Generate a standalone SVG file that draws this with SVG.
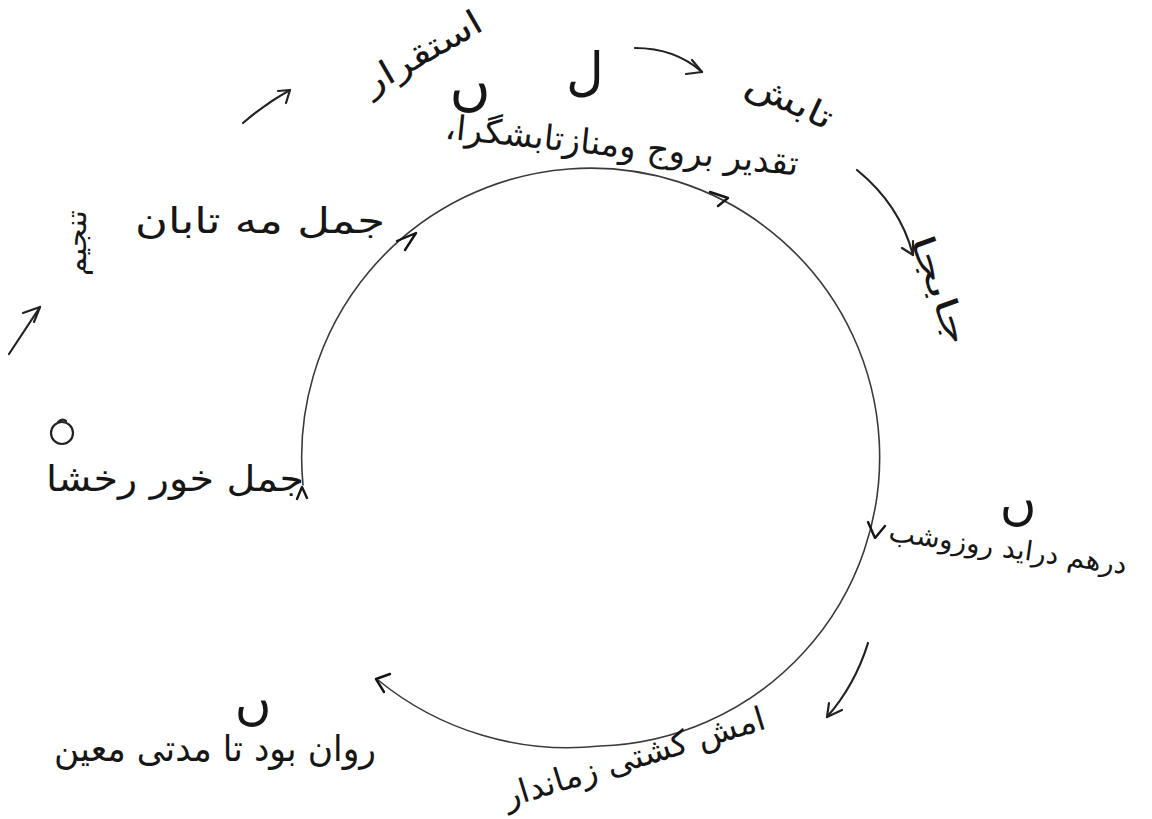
<svg xmlns="http://www.w3.org/2000/svg" width="1152" height="819" viewBox="0 0 1152 819">
<style>
.hw{font-family:"DejaVu Sans","Noto Sans",sans-serif;fill:#161616;text-anchor:middle;dominant-baseline:central;direction:rtl;unicode-bidi:embed}
.mk{font-family:"DejaVu Sans","Noto Sans",sans-serif;fill:#161616;text-anchor:middle;dominant-baseline:central}
.ln{fill:none;stroke:#222;stroke-width:2.2;stroke-linecap:round;stroke-linejoin:round}
.cl{fill:none;stroke:#3a3a3a;stroke-width:1.6;stroke-linecap:round;stroke-linejoin:round}
.hd{fill:none;stroke:#151515;stroke-width:2.4;stroke-linecap:round;stroke-linejoin:round}
</style>
<rect width="1152" height="819" fill="#ffffff"/>
<g id="connectors">
  <path class="cl" d="M303,485 A289,289 0 1 1 600,746 A300,300 0 0 1 378,680"/>
  <path class="hd" d="M397,241 L416,233 L405,250"/>
  <path class="hd" d="M710,192 L728,198 L718,206"/>
  <path class="hd" d="M868,522 L875,538 L885,526"/>
  <path class="hd" d="M390,674 L376,679 L384,692"/>
  <path class="hd" d="M297,499 L302,487 L307,498"/>
  <path class="ln" d="M9,354 L40,307"/>
  <path class="ln" d="M23,313 L40,307 L34,322"/>
  <path class="ln" d="M243,123 Q265,104 290,90"/>
  <path class="ln" d="M278,91 L290,90 L286,103"/>
  <path class="ln" d="M635,48 Q675,48 702,72"/>
  <path class="ln" d="M692,60 L702,72 L686,74"/>
  <path class="ln" d="M857,170 Q900,205 913,255"/>
  <path class="ln" d="M902,248 L913,255 L913,241"/>
  <path class="ln" d="M868,643 Q855,685 827,717"/>
  <path class="ln" d="M842,710 L827,717 L829,703"/>
</g>
<g id="n-esteqrar"><text class="hw" font-size="34" textLength="132" lengthAdjust="spacingAndGlyphs" transform="translate(422,52) rotate(-30)">استقرار</text></g>
<g id="n-mark1"><text class="mk" font-size="56" transform="translate(470,84)">ں</text></g>
<g id="n-mark2"><text class="mk" font-size="52" transform="translate(585,72)">ل</text></g>
<g id="n-tabesh"><text class="hw" font-size="34" textLength="92" lengthAdjust="spacingAndGlyphs" transform="translate(790,100) rotate(25)">تابش</text></g>
<g id="n-taqdir"><text class="hw" font-size="34" textLength="355" lengthAdjust="spacingAndGlyphs" transform="translate(622,145) rotate(6)">تقدیر بروج ومنازتابشگرا،</text></g>
<g id="n-jabeja"><text class="hw" font-size="32" textLength="115" lengthAdjust="spacingAndGlyphs" transform="translate(940,290) rotate(70)">جابجا</text></g>
<g id="n-darham"><text class="mk" font-size="50" transform="translate(1018,502)">ں</text><text class="hw" font-size="27" textLength="240" lengthAdjust="spacingAndGlyphs" transform="translate(1008,548) rotate(8)">درهم دراید روزوشب</text></g>
<g id="n-kashti"><text class="hw" font-size="33" textLength="272" lengthAdjust="spacingAndGlyphs" transform="translate(634,757) rotate(-17)">امش کشتی زماندار</text></g>
<g id="n-ravan"><text class="mk" font-size="50" transform="translate(253,702)">ں</text><text class="hw" font-size="36" textLength="322" lengthAdjust="spacingAndGlyphs" transform="translate(215,748)">روان بود تا مدتی معین</text></g>
<g id="n-hamal-khor"><circle cx="62" cy="433" r="11" fill="none" stroke="#222" stroke-width="2.2"/><path class="ln" d="M58,422 Q62,418 66,421"/><text class="hw" font-size="36" textLength="258" lengthAdjust="spacingAndGlyphs" transform="translate(175,478)">جمل خور رخشا</text></g>
<g id="n-hamal-mah"><text class="hw" font-size="36" textLength="250" lengthAdjust="spacingAndGlyphs" transform="translate(260,220)">جمل مه تابان</text></g>
<g id="n-tanjim"><text class="hw" font-size="28" textLength="66" lengthAdjust="spacingAndGlyphs" transform="translate(76,243) rotate(-90)">تنجیم</text></g>
</svg>
